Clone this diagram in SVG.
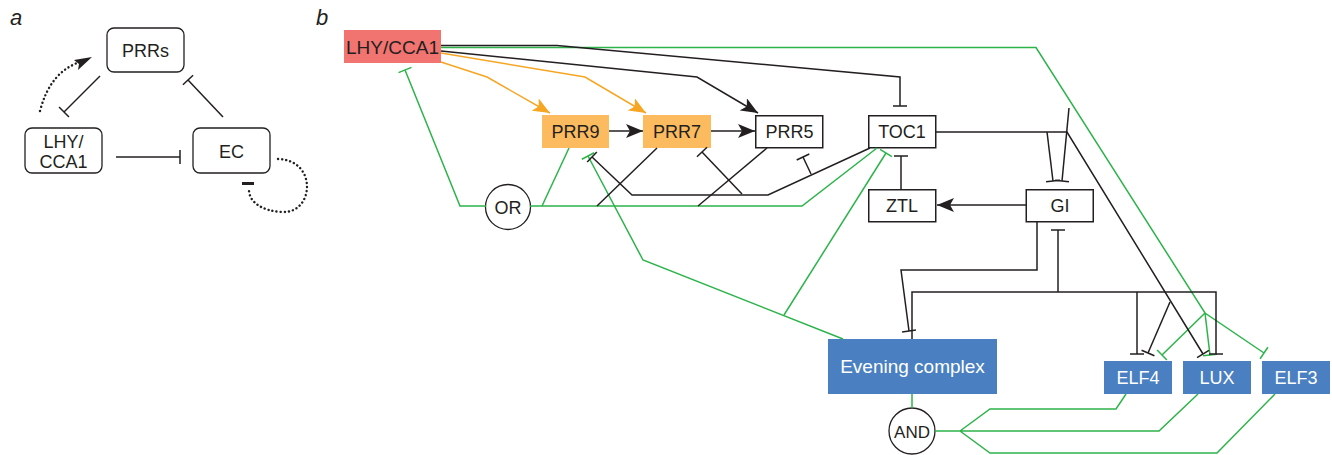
<svg xmlns="http://www.w3.org/2000/svg" width="1332" height="455" viewBox="0 0 1332 455">
<style>
.t{font-family:"Liberation Sans",Arial,sans-serif;font-size:18px;fill:#231f20;text-anchor:middle}
.w{fill:#ffffff}
.lab{font-family:"Liberation Sans",Arial,sans-serif;font-size:22px;font-style:italic;fill:#231f20}
.k{fill:none;stroke:#231f20;stroke-width:1.5}
.g{fill:none;stroke:#2cb34a;stroke-width:1.5}
.o{fill:none;stroke:#f6a623;stroke-width:1.5}
.d{fill:none;stroke:#231f20;stroke-width:2.4;stroke-dasharray:0.1 4;stroke-linecap:round}
.box{fill:#ffffff;stroke:#231f20;stroke-width:1.5}
.rbox{fill:#ffffff;stroke:#231f20;stroke-width:1.3}
</style>
<defs>
<marker id="tb" viewBox="-2 -8 4 16" markerWidth="4" markerHeight="16" refX="0" refY="0" orient="auto" markerUnits="userSpaceOnUse"><path d="M0,-7V7" stroke="#231f20" stroke-width="1.5"/></marker>
<marker id="tg" viewBox="-2 -8 4 16" markerWidth="4" markerHeight="16" refX="0" refY="0" orient="auto" markerUnits="userSpaceOnUse"><path d="M0,-7V7" stroke="#2cb34a" stroke-width="1.5"/></marker>
<marker id="ab" viewBox="0 -7 18 14" markerWidth="18" markerHeight="14" refX="17" refY="0" orient="auto" markerUnits="userSpaceOnUse"><path d="M0,-7 L17,0 L0,7 L4,0Z" fill="#231f20"/></marker>
<marker id="ao" viewBox="0 -7 18 14" markerWidth="18" markerHeight="14" refX="17" refY="0" orient="auto" markerUnits="userSpaceOnUse"><path d="M0,-7 L17,0 L0,7 L4,0Z" fill="#f6a623"/></marker>
</defs>

<text class="lab" x="10" y="25">a</text>
<text class="lab" x="316" y="25">b</text>

<!-- Panel a nodes -->
<g id="a-prrs"><rect class="rbox" x="107" y="28" width="77" height="44" rx="7"/><text class="t" x="145.5" y="56.5">PRRs</text></g>
<g id="a-lhy"><rect class="rbox" x="25" y="128" width="77" height="45" rx="7"/><text class="t" x="63.5" y="148">LHY/</text><text class="t" x="63.5" y="167.5">CCA1</text></g>
<g id="a-ec"><rect class="rbox" x="193" y="128" width="77" height="45" rx="7"/><text class="t" x="231.5" y="157.5">EC</text></g>

<!-- Panel b nodes -->
<g id="lhy"><rect x="344" y="30" width="97" height="33" fill="#f27470"/><text class="t" x="392.5" y="53.5" style="font-size:19px">LHY/CCA1</text></g>
<g id="prr9"><rect x="542" y="115" width="67" height="33" fill="#fcbb5e"/><text class="t" x="575.5" y="138">PRR9</text></g>
<g id="prr7"><rect x="643" y="115" width="68" height="33" fill="#fcbb5e"/><text class="t" x="677" y="138">PRR7</text></g>
<g id="prr5"><rect class="box" x="755.75" y="115.75" width="67" height="32"/><text class="t" x="789.5" y="138">PRR5</text></g>
<g id="toc1"><rect class="box" x="868.75" y="115.75" width="67" height="32"/><text class="t" x="902" y="138">TOC1</text></g>
<g id="ztl"><rect class="box" x="868.75" y="189.75" width="67" height="32"/><text class="t" x="902" y="212">ZTL</text></g>
<g id="gi"><rect class="box" x="1026.25" y="189.75" width="67" height="32"/><text class="t" x="1060" y="212">GI</text></g>
<g id="or"><circle cx="508" cy="207" r="22.5" fill="#ffffff" stroke="#231f20" stroke-width="1.3"/><text class="t" x="508" y="213.5">OR</text></g>
<g id="ec"><rect x="828" y="339" width="169" height="55" fill="#4a7fc1"/><text class="t w" x="912.5" y="373" style="font-size:19px">Evening complex</text></g>
<g id="and"><circle cx="912" cy="431" r="23" fill="#ffffff" stroke="#231f20" stroke-width="1.3"/><text class="t" x="912" y="437.5" style="font-size:17px">AND</text></g>
<g id="elf4"><rect x="1104" y="361" width="68" height="33" fill="#4a7fc1"/><text class="t w" x="1138" y="384">ELF4</text></g>
<g id="lux"><rect x="1183" y="361" width="68" height="33" fill="#4a7fc1"/><text class="t w" x="1217" y="384">LUX</text></g>
<g id="elf3"><rect x="1262" y="361" width="68" height="33" fill="#4a7fc1"/><text class="t w" x="1296" y="384">ELF3</text></g>

<g id="connectors">
<!-- panel a -->
<path class="k" d="M100,76 L64,112" marker-end="url(#tb)"/>
<path class="k" d="M223,117 L188,80" marker-end="url(#tb)"/>
<path class="k" d="M116,157 L180,157" marker-end="url(#tb)"/>
<path class="d" d="M40,111 Q50,72 80,62"/>
<path d="M92,57 L74,60 L79,64 L78,70Z" fill="#231f20"/>
<path class="d" d="M278,159 C318,160 314,214 282,212 C262,211 249,202 249,190"/>
<path d="M242,183.5 H254" stroke="#231f20" stroke-width="3"/>

<!-- green -->
<path class="g" d="M441,47.5 L1036,47.5 L1205,313 L1264,353" marker-end="url(#tg)"/>
<path class="g" d="M1205,313 L1162,355" marker-end="url(#tg)"/>
<path class="g" d="M1205,313 L1210,355" marker-end="url(#tg)"/>
<path class="g" d="M486,206 L460,206 L405,70" marker-end="url(#tg)"/>
<path class="g" d="M569,148 L542,206"/>
<path class="g" d="M530,206 L802,206 L877,148"/>
<path class="g" d="M843,339 L643,260 L588,156" marker-end="url(#tg)"/>
<path class="g" d="M784,315 L886,153" marker-end="url(#tg)"/>
<path class="g" d="M912,394 L912,408"/>
<path class="g" d="M935,431 L960,431 M960,431 L990,409 L1116,409 L1126,394 M960,431 L1159,431 L1198,394 M960,431 L990,453 L1217,453 L1275,394"/>

<!-- orange -->
<path class="o" d="M441,62 L487,77 L550,113" marker-end="url(#ao)"/>
<path class="o" d="M441,53 L585,77 L646,113" marker-end="url(#ao)"/>

<!-- black -->
<path class="k" d="M441,45.5 L557,45.5 L900,77 L900,106" marker-end="url(#tb)"/>
<path class="k" d="M441,51 L697,77 L758,113" marker-end="url(#ab)"/>
<path class="k" d="M609,131 L643,131" marker-end="url(#ab)"/>
<path class="k" d="M711,131 L755,131" marker-end="url(#ab)"/>
<path class="k" d="M936,132 L1067,132 L1203,354" marker-end="url(#tb)"/>
<path class="k" d="M1170,302 L1148,353" marker-end="url(#tb)"/>
<path class="k" d="M1047,132 L1053,181" marker-end="url(#tb)"/>
<path class="k" d="M1069,108 L1062,181" marker-end="url(#tb)"/>
<path class="k" d="M901,189 L901,156" marker-end="url(#tb)"/>
<path class="k" d="M1026,205 L937,205" marker-end="url(#ab)"/>
<path class="k" d="M870,148 L768,195 L632,195 L592,157" marker-end="url(#tb)"/>
<path class="k" d="M742,194 L702,152" marker-end="url(#tb)"/>
<path class="k" d="M811,174 L803,157" marker-end="url(#tb)"/>
<path class="k" d="M657,148 L597,206"/>
<path class="k" d="M767,148 L698,206"/>
<path class="k" d="M1037,222 L1037,270 L901,270 L909,331" marker-end="url(#tb)"/>
<path class="k" d="M1058,292 L1058,230" marker-end="url(#tb)"/>
<path class="k" d="M912,339 L912,292 L1216,292 L1216,354" marker-end="url(#tb)"/>
<path class="k" d="M1137,292 L1137,354" marker-end="url(#tb)"/>
</g>
</svg>
